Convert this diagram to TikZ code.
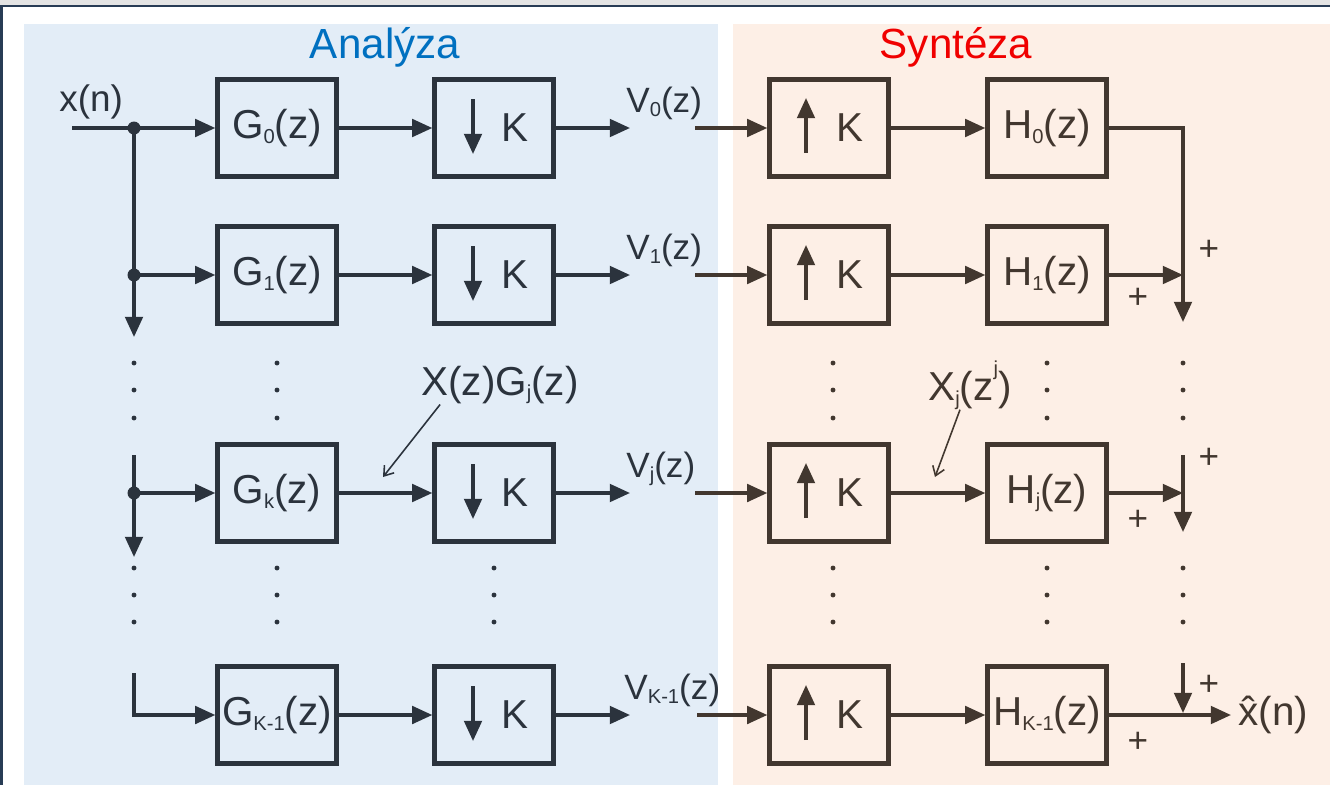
\documentclass[tikz,border=0pt]{standalone}
\usepackage{fontspec}
\setmainfont{Liberation Sans}
\usetikzlibrary{arrows.meta,positioning}

\definecolor{anaFill}{RGB}{227,237,247}
\definecolor{synFill}{RGB}{253,239,230}
\definecolor{anaLine}{RGB}{43,51,61}
\definecolor{synLine}{RGB}{66,55,47}
\definecolor{anaTitle}{RGB}{0,112,192}
\definecolor{synTitle}{RGB}{240,0,0}
\definecolor{frameNavy}{RGB}{40,60,85}
\definecolor{frameGray}{RGB}{228,228,228}

% dolni a horni index
\newcommand{\sbx}[1]{\raisebox{-0.12em}{\fontsize{11.5}{12}\selectfont #1}}
\newcommand{\spx}[1]{\raisebox{0.62em}{\fontsize{11.5}{12}\selectfont #1}}

\begin{document}
\begin{tikzpicture}[
    x=0.02cm,
    y=-0.02cm,
    >={Triangle[length=11.5pt,width=10pt]},
    font=\fontsize{23}{27}\selectfont,
    box/.style={
        draw,
        line width=2.5pt,
        minimum width=2.38cm,
        minimum height=1.94cm,
        inner sep=0pt,
        align=center
    },
    anabox/.style={
        box,
        draw=anaLine,
        text=anaLine
    },
    synbox/.style={
        box,
        draw=synLine,
        text=synLine
    },
    arrow/.style={
        ->,
        line width=1.9pt
    },
    note/.style={
        -{Straight Barb[length=5pt,width=7pt]},
        line width=0.9pt
    },
    jdot/.style={
        circle,
        fill=anaLine,
        inner sep=0pt,
        minimum size=0.26cm
    },
    txt/.style={
        inner sep=0pt
    },
    vlabel/.style={
        txt,
        anchor=base west,
        font=\fontsize{20}{23}\selectfont
    },
    plus/.style={
        txt,
        text=synLine,
        font=\fontsize{20}{22}\selectfont
    }]

\useasboundingbox (0,0) rectangle (1330,785);

% Ramecek a pozadi
\fill[frameGray] (0,0) rectangle (1330,5);
\fill[white] (0,5) rectangle (1330,785);
\draw[frameNavy, line width=1.6pt] (0,6) -- (1330,6);
\draw[frameNavy, line width=1.6pt] (1.5,5) -- (1.5,785);
\fill[anaFill] (24,24) rectangle (718,785);
\fill[synFill] (733,24) rectangle (1330,785);


% Titulky
\node[txt, anchor=base, text=anaTitle,
    font=\fontsize{24}{28}\selectfont] (anaTitle) at (385,58)
{Analýza};

\node[txt, anchor=base, text=synTitle,
    font=\fontsize{24}{28}\selectfont] (synTitle) at (956,58)
{Syntéza};


% Analyza - bloky
\node[anabox] (G0) at (277,128) {G\sbx{0}(z)};
\node[anabox] (G1) at (277,275) {G\sbx{1}(z)};
\node[anabox] (Gk) at (277,493) {G\sbx{k}(z)};
\node[anabox] (GK) at (277,715) {G\sbx{K-1}(z)};

\node[anabox] (D0) at (494,128) {\hspace*{0.84cm}K};
\node[anabox] (D1) at (494,275) {\hspace*{0.84cm}K};
\node[anabox] (Dk) at (494,493) {\hspace*{0.84cm}K};
\node[anabox] (DK) at (494,715) {\hspace*{0.84cm}K};


% Synteza - bloky
\node[synbox] (U0) at (829,128) {\hspace*{0.84cm}K};
\node[synbox] (U1) at (829,275) {\hspace*{0.84cm}K};
\node[synbox] (Uk) at (829,493) {\hspace*{0.84cm}K};
\node[synbox] (UK) at (829,715) {\hspace*{0.84cm}K};

\node[synbox] (H0) at (1047,128) {H\sbx{0}(z)};
\node[synbox] (H1) at (1047,275) {H\sbx{1}(z)};
\node[synbox] (Hk) at (1047,493) {H\sbx{j}(z)};
\node[synbox] (HK) at (1047,715) {H\sbx{K-1}(z)};


% Sipky v decimatorech a expanderech
\draw[arrow, anaLine] ([xshift=-0.42cm,yshift=0.58cm]D0.center) -- ++(0,55);
\draw[arrow, anaLine] ([xshift=-0.42cm,yshift=0.58cm]D1.center) -- ++(0,55);
\draw[arrow, anaLine] ([xshift=-0.42cm,yshift=0.58cm]Dk.center) -- ++(0,55);
\draw[arrow, anaLine] ([xshift=-0.42cm,yshift=0.58cm]DK.center) -- ++(0,55);

\draw[arrow, synLine] ([xshift=-0.46cm,yshift=-0.5cm]U0.center) -- ++(0,-55);
\draw[arrow, synLine] ([xshift=-0.46cm,yshift=-0.5cm]U1.center) -- ++(0,-55);
\draw[arrow, synLine] ([xshift=-0.46cm,yshift=-0.5cm]Uk.center) -- ++(0,-55);
\draw[arrow, synLine] ([xshift=-0.46cm,yshift=-0.5cm]UK.center) -- ++(0,-55);


% Vstup a rozvetveni
\node[txt, anchor=base west, text=anaLine,
    font=\fontsize{21}{24}\selectfont] (xn) at (59,111)
{x(n)};

\coordinate (xin) at (72,128);
\node[jdot] (j0) at (134,128) {};
\node[jdot] (j1) at (134,275) {};
\node[jdot] (jk) at (134,493) {};
\coordinate (busk) at (134,455);
\coordinate (busK) at (134,673);

\draw[arrow, anaLine] (xin) -- (G0.west);
\draw[arrow, anaLine] (j0.center) -- (j1.center) -- ++(0,62);
\draw[arrow, anaLine] (j1.center) -- (G1.west);
\draw[arrow, anaLine] (busk) -- (jk.center) -- ++(0,64);
\draw[arrow, anaLine] (jk.center) -- (Gk.west);
\draw[arrow, anaLine] (busK) |- (GK.west);


% G -> K
\draw[arrow, anaLine] (G0) -- (D0);
\draw[arrow, anaLine] (G1) -- (D1);
\draw[arrow, anaLine] (Gk) -- (Dk);
\draw[arrow, anaLine] (GK) -- (DK);


% Vystupy analyzy
\coordinate (v0) at (630,128);
\coordinate (v1) at (630,275);
\coordinate (vk) at (630,493);
\coordinate (vK) at (630,715);

\draw[arrow, anaLine] (D0) -- (v0);
\draw[arrow, anaLine] (D1) -- (v1);
\draw[arrow, anaLine] (Dk) -- (vk);
\draw[arrow, anaLine] (DK) -- (vK);

\node[vlabel, text=anaLine] (V0) at (626,112) {V\sbx{0}(z)};
\node[vlabel, text=anaLine] (V1) at (626,259) {V\sbx{1}(z)};
\node[vlabel, text=anaLine] (Vk) at (626,477) {V\sbx{j}(z)};
\node[vlabel, text=anaLine] (VK) at (624,699) {V\sbx{K-1}(z)};

\coordinate (w0) at (695,128);
\coordinate (w1) at (695,275);
\coordinate (wk) at (695,493);
\coordinate (wK) at (697,715);

\draw[arrow, synLine] (w0) -- (U0.west);
\draw[arrow, synLine] (w1) -- (U1.west);
\draw[arrow, synLine] (wk) -- (Uk.west);
\draw[arrow, synLine] (wK) -- (UK.west);


% K -> H
\draw[arrow, synLine] (U0) -- (H0);
\draw[arrow, synLine] (U1) -- (H1);
\draw[arrow, synLine] (Uk) -- (Hk);
\draw[arrow, synLine] (UK) -- (HK);


% Scitani
\coordinate (s0) at (1183,128);
\coordinate (s1) at (1183,275);
\coordinate (sk) at (1183,455);
\coordinate (skin) at (1183,493);
\coordinate (sK) at (1183,663);

\draw[arrow, synLine] (H0.east) -- (s0) -- ++(0,194);
\draw[arrow, synLine] (H1.east) -- (s1);
\draw[arrow, synLine] (sk) -- ++(0,77);
\draw[arrow, synLine] (Hk.east) -- (skin);
\draw[arrow, synLine] (sK) -- ++(0,50);

\node[txt, anchor=west, text=synLine, inner sep=4pt] (xhat) at (1231,715)
{\^x(n)};
\draw[arrow, synLine] (HK.east) -- (xhat.west);

\node[plus] (p1a) at (1209,250) {+};
\node[plus] (p1b) at (1138,298) {+};
\node[plus] (pka) at (1209,458) {+};
\node[plus] (pkb) at (1138,520) {+};
\node[plus] (pKa) at (1209,685) {+};
\node[plus] (pKb) at (1138,742) {+};


% Popisky signalu
\node[txt, text=anaLine] (xg) at (500,385) {X(z)G\sbx{j}(z)};
\coordinate (xgtip) at (383,477);
\draw[note, anaLine] ([xshift=0.38cm]xg.south west) -- (xgtip);

\node[txt, text=synLine] (xj) at (970,385) {X\sbx{j}(z\spx{j})};
\coordinate (xjtip) at (935,477);
\draw[note, synLine] ([xshift=-0.2cm]xj.south) -- (xjtip);


% Tecky
\foreach \dx in {134,277}
    \foreach \dy in {363,390,418}
        \fill[anaLine] (\dx,\dy) circle (1.4pt);
\foreach \dx in {833,1047,1183}
    \foreach \dy in {363,390,418}
        \fill[synLine] (\dx,\dy) circle (1.4pt);
\foreach \dx in {134,277,494}
    \foreach \dy in {568,595,622}
        \fill[anaLine] (\dx,\dy) circle (1.4pt);
\foreach \dx in {833,1047,1183}
    \foreach \dy in {568,595,622}
        \fill[synLine] (\dx,\dy) circle (1.4pt);

\end{tikzpicture}
\end{document}
